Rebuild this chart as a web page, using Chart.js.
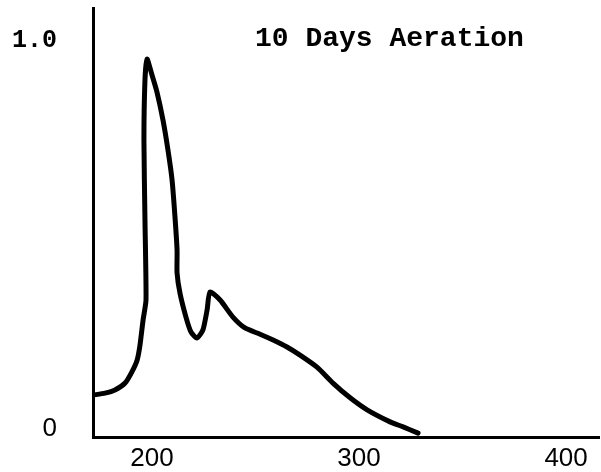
<!DOCTYPE html>
<html>
<head>
<meta charset="utf-8">
<script src="https://cdn.jsdelivr.net/npm/chart.js@4.4.1/dist/chart.umd.min.js"></script>
<style>
    body { margin: 0; background: #fff; }
    #wrap { position: relative; width: 601px; height: 472px; }
    #title {
        position: absolute;
        left: 255px;
        top: 25px;
        font-family: 'Liberation Mono', 'Courier New', monospace;
        font-size: 28px;
        font-weight: bold;
        line-height: 1;
        color: #000;
        white-space: pre;
    }
</style>
</head>
<body>
<div id="wrap">
    <canvas id="spectrumChart"></canvas>
    <div id="title">10 Days Aeration</div>
</div>
<script>
// wavelength (x) and relative absorbance (y)
const wavelengths = [171.5, 177.3, 182.1, 187.0, 190.3, 192.8, 194.2, 195.7, 197.1, 196.6, 196.1, 196.6, 197.6,
    200.0, 202.4, 205.3, 207.7, 209.7, 211.1, 212.1, 212.1, 213.5, 216.4, 218.8, 221.7, 224.6, 226.6, 228.0,
    232.9, 239.1, 244.9, 252.2, 258.5, 265.2, 271.5, 279.7, 287.4, 295.7, 303.9, 315.0, 321.3, 328.5];
const absorbance = [0.108, 0.113, 0.121, 0.139, 0.168, 0.198, 0.237, 0.302, 0.353, 0.559, 0.765, 0.920, 0.974,
    0.933, 0.889, 0.817, 0.740, 0.662, 0.567, 0.482, 0.423, 0.371, 0.309, 0.271, 0.255, 0.276, 0.327, 0.374,
    0.353, 0.309, 0.281, 0.265, 0.250, 0.232, 0.211, 0.180, 0.139, 0.101, 0.070, 0.039, 0.026, 0.010];

const xTicks = [200, 300, 400];
const yTicks = [0, 1.0];
const yTickLabels = ['0', '1.0'];

document.addEventListener('DOMContentLoaded', function () {
    const ctx = document.getElementById('spectrumChart').getContext('2d');

    const points = wavelengths.map((w, i) => ({ x: w, y: absorbance[i] }));

    new Chart(ctx, {
        type: 'line',
        data: {
            datasets: [{
                data: points,
                borderColor: '#000',
                borderWidth: 5,
                pointRadius: 0,
                tension: 0.2,
                borderCapStyle: 'round',
                borderJoinStyle: 'round',
                fill: false
            }]
        },
        options: {
            responsive: true,
            maintainAspectRatio: false,
            animation: false,
            layout: {
                padding: { top: 8, right: 2, left: 0, bottom: 0 }
            },
            plugins: {
                legend: { display: false },
                tooltip: { enabled: false }
            },
            scales: {
                x: {
                    type: 'linear',
                    min: 171.5,
                    max: 415.9,
                    grid: { display: false, drawTicks: false },
                    border: { display: true, color: '#000', width: 3 },
                    afterBuildTicks: scale => {
                        scale.ticks = xTicks.map(v => ({ value: v }));
                    },
                    afterFit: scale => {
                        scale.height = 35;
                        scale.paddingLeft = 0;
                        scale.paddingRight = 0;
                    },
                    ticks: {
                        padding: 6,
                        color: '#000',
                        maxRotation: 0,
                        font: { family: "'Liberation Sans', sans-serif", size: 26 }
                    }
                },
                y: {
                    min: 0,
                    max: 1.1057,
                    grid: { display: false, drawTicks: false },
                    border: { display: true, color: '#000', width: 3 },
                    afterBuildTicks: scale => {
                        scale.ticks = yTicks.map(v => ({ value: v }));
                    },
                    afterFit: scale => {
                        scale.width = 93;
                        scale.paddingTop = 0;
                        scale.paddingBottom = 0;
                    },
                    ticks: {
                        padding: 36,
                        labelOffset: -8,
                        color: '#000',
                        callback: (value, index) => yTickLabels[index],
                        font: context => context.tick && context.tick.value === 0
                            ? { family: "'Liberation Sans', sans-serif", size: 26 }
                            : { family: "'Liberation Mono', monospace", size: 25, weight: 'bold' }
                    }
                }
            }
        }
    });
});
</script>
</body>
</html>
